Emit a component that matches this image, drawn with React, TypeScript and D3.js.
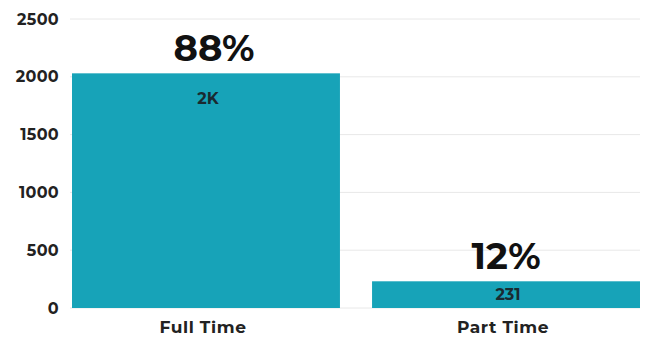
import React from "react";
import * as d3 from "d3";

const categories = ["Full Time", "Part Time"];
const values = [2030, 231];
const valueLabels = ["2K", "231"];
const percentLabels = ["88%", "12%"];
const yTicks = [0, 500, 1000, 1500, 2000, 2500];

const W = 647;
const H = 339;
const margin = { left: 72, right: 7, top: 19, bottom: 31 };
const font = "Montserrat, 'Open Sans', Lato, sans-serif";

export default function App() {
  const x = d3
    .scaleBand<string>()
    .domain(categories)
    .range([margin.left, W - margin.right])
    .paddingInner(0.107)
    .paddingOuter(0);
  const y = d3.scaleLinear().domain([0, 2500]).range([H - margin.bottom, margin.top]);

  return (
    <svg width={W} height={H} style={{ position: "absolute", left: 0, top: 0, background: "#fff" }}>
      <g>
        {yTicks.map((t) => (
          <g key={t}>
            <line x1={70} x2={W - margin.right} y1={y(t)} y2={y(t)} stroke="#e8e8e8" strokeWidth={1} />
            <text
              x={59}
              y={y(t)}
              dy="0.35em"
              textAnchor="end"
              fontFamily={font}
              fontWeight={700}
              fontSize={16}
              letterSpacing={0.3}
              fill="#222"
            >
              {t}
            </text>
          </g>
        ))}
      </g>
      {categories.map((c, i) => {
        const bx = x(c)!;
        const bw = x.bandwidth();
        const cx = bx + bw / 2;
        const top = y(values[i]);
        const labelY = Math.min(top + 25, (top + y(0)) / 2);
        return (
          <g key={c}>
            <rect x={bx} y={top} width={bw} height={y(0) - top} fill="#17A3B8" />
            <text
              x={cx + (i === 0 ? 8 : 0)}
              y={top - 12}
              textAnchor="middle"
              fontFamily={font}
              fontWeight={700}
              fontSize={37}
              fill="#111"
            >
              {percentLabels[i]}
            </text>
            <text
              x={cx + 2}
              y={labelY}
              dy="0.35em"
              textAnchor="middle"
              fontFamily={font}
              fontWeight={700}
              fontSize={16}
              fill="#1a2a30"
            >
              {valueLabels[i]}
            </text>
            <text
              x={cx - 3}
              y={H - 6}
              textAnchor="middle"
              fontFamily={font}
              fontWeight={700}
              fontSize={17}
              letterSpacing={0.6}
              fill="#222"
            >
              {c}
            </text>
          </g>
        );
      })}
    </svg>
  );
}
